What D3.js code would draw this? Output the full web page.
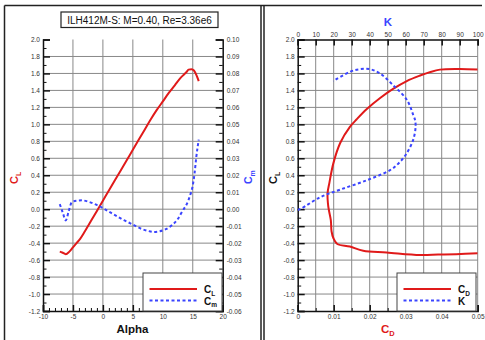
<!DOCTYPE html>
<html><head><meta charset="utf-8">
<script src="https://cdn.jsdelivr.net/npm/d3@7"></script>
<style>body{margin:0;background:#fff}svg{display:block}text{font-family:"Liberation Sans",Arial,sans-serif}</style>
</head><body>
<svg id="c" width="485" height="340"></svg>
<script>
// ---- data ----
const titleText = "ILH412M-S: M=0.40, Re=3.36e6";
const alphaCL = [-7.2,-6.8,-6.2,-5.6,-5.0,-4.4,-3.8,-3,-2,-1,0,1,2,3,4,5,6,7,8,9,10,11,12,13,14,14.3,14.8,15.2,16];
const CL      = [-0.50,-0.51,-0.53,-0.50,-0.45,-0.40,-0.35,-0.26,-0.14,-0.02,0.10,0.22,0.34,0.46,0.58,0.70,0.82,0.94,1.06,1.17,1.27,1.37,1.46,1.55,1.62,1.645,1.65,1.635,1.51];
const alphaCm = [-7.2,-6.7,-6.2,-5.7,-5.2,-4.4,-3.5,-2.5,-1.5,-0.5,0.5,1.5,2.5,3.5,4.5,5.5,6.5,7.5,8.5,9.5,10.5,11.5,12.5,13.3,14,14.5,15,15.3,15.6,16];
const Cm      = [0.003,-0.002,-0.0066,-0.001,0.004,0.005,0.0052,0.0045,0.0032,0.0016,-0.0004,-0.0025,-0.0045,-0.0065,-0.0082,-0.0100,-0.0117,-0.0128,-0.0134,-0.0130,-0.0118,-0.0095,-0.0058,-0.001,0.003,0.0075,0.014,0.021,0.031,0.041];
const polarCD = [0.050,0.044,0.039,0.034,0.0247,0.0182,0.0145,0.011,0.0099,0.0094,0.0092,0.0085,0.0083,0.0088,0.0099,0.0118,0.0145,0.0164,0.0192,0.0229,0.0266,0.0303,0.034,0.0367,0.0395,0.045,0.050];
const polarCL = [-0.52,-0.53,-0.535,-0.54,-0.51,-0.49,-0.44,-0.41,-0.34,-0.26,-0.13,0.03,0.19,0.31,0.54,0.78,0.97,1.06,1.18,1.31,1.42,1.51,1.575,1.615,1.645,1.652,1.645];
const Kvals   = [0,2.2,12.4,23.5,38.3,51.3,56.5,60.6,64.2,65.5,65.2,64.2,60.6,53.1,45.7,40.2,34.6,29,19.8];
const KCL     = [-0.01,0.01,0.14,0.23,0.34,0.46,0.55,0.66,0.82,0.97,1.05,1.11,1.29,1.46,1.60,1.65,1.65,1.62,1.51];
const clTicks = d3.range(-1.2,2.001,0.2);
const alphaTicks = [-10,-5,0,5,10,15,20];
const cmTicks = d3.range(-0.06,0.1001,0.01);
const cdTicks = [0,0.01,0.02,0.03,0.04,0.05];
const kTicks = d3.range(0,101,10);

// ---- setup ----
const svg = d3.select("#c");
const RED = "#e01a1a", BLUE = "#3a44ff";
const PT = 39.5, PB = 311;
const y = d3.scaleLinear([-1.2,2.0],[PB,PT]);
const yCm = d3.scaleLinear([-0.06,0.10],[PB,PT]);
const xA = d3.scaleLinear([-10,20],[43,222.7]);
const xCD = d3.scaleLinear([0,0.05],[297.7,477.7]);
const xK = d3.scaleLinear([0,100],[297.7,477.7]);
const fmt1 = v => d3.format(".1f")(v).replace("\u2212","-");
const fmt2 = v => d3.format(".2f")(v).replace("\u2212","-");

// frames
const fr = svg.append("g").attr("stroke","#222").attr("fill","none");
fr.append("line").attr("x1",4.5).attr("x2",482).attr("y1",5.5).attr("y2",5.5).attr("stroke-width",1.5);
fr.append("line").attr("x1",4.5).attr("x2",4.5).attr("y1",5.5).attr("y2",340).attr("stroke-width",1.5);
fr.append("line").attr("x1",261).attr("x2",261).attr("y1",5.5).attr("y2",340).attr("stroke-width",1.5);
fr.append("line").attr("x1",264).attr("x2",264).attr("y1",5.5).attr("y2",340).attr("stroke-width",1.5);

// title
svg.append("rect").attr("x",61).attr("y",12).attr("width",157).attr("height",15.5).attr("fill","#fff").attr("stroke","#222").attr("stroke-width",1.2);
svg.append("text").attr("x",139.5).attr("y",23.5).attr("text-anchor","middle").attr("font-size",10).attr("fill","#111").text(titleText);

function grid(g, xs, ys, xScale, yScale, x0, x1){
  g.selectAll(".gv").data(xs).join("line").attr("class","gv").attr("x1",d=>xScale(d)).attr("x2",d=>xScale(d)).attr("y1",PT).attr("y2",PB).attr("stroke","#888").attr("stroke-width",1);
  g.selectAll(".gh").data(ys).join("line").attr("class","gh").attr("x1",x0).attr("x2",x1).attr("y1",d=>yScale(d)).attr("y2",d=>yScale(d)).attr("stroke","#888").attr("stroke-width",1);
}
function styleAxis(g){
  g.select(".domain").attr("stroke","#111").attr("stroke-width",1.5);
  g.selectAll(".tick line").attr("stroke","#111").attr("stroke-width",1.5);
  g.selectAll(".tick text").attr("font-size",6.5).attr("fill","#333").attr("font-family","Liberation Sans,Arial,sans-serif");
}
function minor(g, axisFn, scale, vals, size){
  const a = g.append("g").call(axisFn(scale).tickValues(vals).tickSize(size).tickFormat(""));
  a.select(".domain").remove();
  a.selectAll(".tick line").attr("stroke","#111").attr("stroke-width",1);
  return a;
}

// ===== left panel =====
const L = svg.append("g");
grid(L.append("g"), [-5,0,5,10,15], d3.range(-1.0,1.901,0.2), xA, y, 43, 222.7);
svg.append("clipPath").attr("id","clipL").append("rect").attr("x",43).attr("y",PT).attr("width",179.7).attr("height",PB-PT);

const gLy = L.append("g").attr("transform","translate(43,0)");
minor(gLy, d3.axisLeft, y, d3.range(-1.1,2.0,0.2), -3.5);
gLy.append("g").call(d3.axisLeft(y).tickValues(clTicks).tickSize(-7).tickPadding(3).tickFormat(fmt1)).call(styleAxis);
const gLr = L.append("g").attr("transform","translate(222.7,0)");
minor(gLr, d3.axisRight, yCm, d3.range(-0.055,0.1,0.01), -3.5);
gLr.append("g").call(d3.axisRight(yCm).tickValues(cmTicks).tickSize(-7).tickPadding(4).tickFormat(fmt2)).call(styleAxis);
const gLb = L.append("g").attr("transform",`translate(0,${PB})`);
minor(gLb, d3.axisBottom, xA, d3.range(-9,20,1).filter(d=>d%5!==0), -3);
gLb.append("g").call(d3.axisBottom(xA).tickValues(alphaTicks).tickSize(-6).tickPadding(3).tickFormat(d=>String(d))).call(styleAxis);

const lineCL = d3.line().x(d=>xA(d[0])).y(d=>y(d[1])).curve(d3.curveMonotoneX);
L.append("path").datum(d3.zip(alphaCL,CL)).attr("d",lineCL).attr("fill","none").attr("stroke",RED).attr("stroke-width",2).attr("clip-path","url(#clipL)");
const lineCm = d3.line().x(d=>xA(d[0])).y(d=>yCm(d[1])).curve(d3.curveMonotoneX);
L.append("path").datum(d3.zip(alphaCm,Cm)).attr("d",lineCm).attr("fill","none").attr("stroke",BLUE).attr("stroke-width",2).attr("stroke-dasharray","3,2.5").attr("clip-path","url(#clipL)");

// legend
function legend(g, x, yTop, items){
  g.append("rect").attr("x",x).attr("y",yTop).attr("width",79).attr("height",PB-yTop).attr("fill","#fff").attr("stroke","#444").attr("stroke-width",1);
  items.forEach((it,i)=>{
    const yy = yTop + 16 + i*11.5;
    g.append("line").attr("x1",x+6.5).attr("x2",x+54).attr("y1",yy).attr("y2",yy).attr("stroke",it.c).attr("stroke-width",2).attr("stroke-dasharray",it.dash||null);
    const t = g.append("text").attr("x",x+61).attr("y",yy+4).attr("font-size",10).attr("font-weight","bold").attr("fill","#111");
    t.append("tspan").text(it.t);
    if(it.s) t.append("tspan").attr("font-size",6.5).attr("dy",2.5).text(it.s);
  });
}
legend(L, 143, 273, [{c:RED,t:"C",s:"L"},{c:BLUE,t:"C",s:"m",dash:"3,2.5"}]);

// axis titles left
svg.append("text").attr("transform","translate(18,184) rotate(-90)").attr("font-size",11).attr("font-weight","bold").attr("fill",RED)
  .call(t=>{t.append("tspan").text("C");t.append("tspan").attr("font-size",7).attr("dy",3).text("L");});
svg.append("text").attr("transform","translate(252,184) rotate(-90)").attr("font-size",10.5).attr("font-weight","bold").attr("fill",BLUE)
  .call(t=>{t.append("tspan").text("C");t.append("tspan").attr("font-size",7).attr("dy",3).text("m");});
svg.append("text").attr("x",132.5).attr("y",333).attr("text-anchor","middle").attr("font-size",11.5).attr("font-weight","bold").attr("fill","#111").text("Alpha");

// ===== right panel =====
const R = svg.append("g");
grid(R.append("g"), d3.range(10,101,10), d3.range(-1.0,1.901,0.2), xK, y, 297.7, 477.7);
svg.append("clipPath").attr("id","clipR").append("rect").attr("x",297.7).attr("y",PT).attr("width",180).attr("height",PB-PT);

const gRy = R.append("g").attr("transform","translate(297.7,0)");
minor(gRy, d3.axisLeft, y, d3.range(-1.1,2.0,0.2), -3.5);
gRy.append("g").call(d3.axisLeft(y).tickValues(clTicks).tickSize(-7).tickPadding(3).tickFormat(fmt1)).call(styleAxis);
const gRb = R.append("g").attr("transform",`translate(0,${PB})`);
minor(gRb, d3.axisBottom, xCD, [0.005,0.015,0.025,0.035,0.045], -3);
gRb.append("g").call(d3.axisBottom(xCD).tickValues(cdTicks).tickSize(-6).tickPadding(3).tickFormat(d=>d===0?"0":d3.format(".2f")(d))).call(styleAxis);
const gRt = R.append("g").attr("transform",`translate(0,${PT})`);
gRt.append("g").call(d3.axisTop(xK).tickValues(kTicks).tickSize(-6).tickPadding(3).tickFormat(d3.format("d"))).call(styleAxis);

const linePolar = d3.line().x(d=>xCD(d[0])).y(d=>y(d[1])).curve(d3.curveCatmullRom.alpha(0.5));
R.append("path").datum(d3.zip(polarCD,polarCL)).attr("d",linePolar).attr("fill","none").attr("stroke",RED).attr("stroke-width",2).attr("clip-path","url(#clipR)");
const lineK = d3.line().x(d=>xK(d[0])).y(d=>y(d[1])).curve(d3.curveCatmullRom.alpha(0.5));
R.append("path").datum(d3.zip(Kvals,KCL)).attr("d",lineK).attr("fill","none").attr("stroke",BLUE).attr("stroke-width",2).attr("stroke-dasharray","3,2.5").attr("clip-path","url(#clipR)");

legend(R, 397, 273, [{c:RED,t:"C",s:"D"},{c:BLUE,t:"K",dash:"3,2.5"}]);

svg.append("text").attr("transform","translate(277,184) rotate(-90)").attr("font-size",11).attr("font-weight","bold").attr("fill","#111")
  .call(t=>{t.append("tspan").text("C");t.append("tspan").attr("font-size",7).attr("dy",3).text("L");});
svg.append("text").attr("x",388).attr("y",26).attr("text-anchor","middle").attr("font-size",11.5).attr("font-weight","bold").attr("fill",BLUE).text("K");
svg.append("text").attr("x",381).attr("y",333).attr("font-size",11.5).attr("font-weight","bold").attr("fill",RED)
  .call(t=>{t.append("tspan").text("C");t.append("tspan").attr("font-size",7.5).attr("dy",3).text("D");});
</script>
</body></html>
